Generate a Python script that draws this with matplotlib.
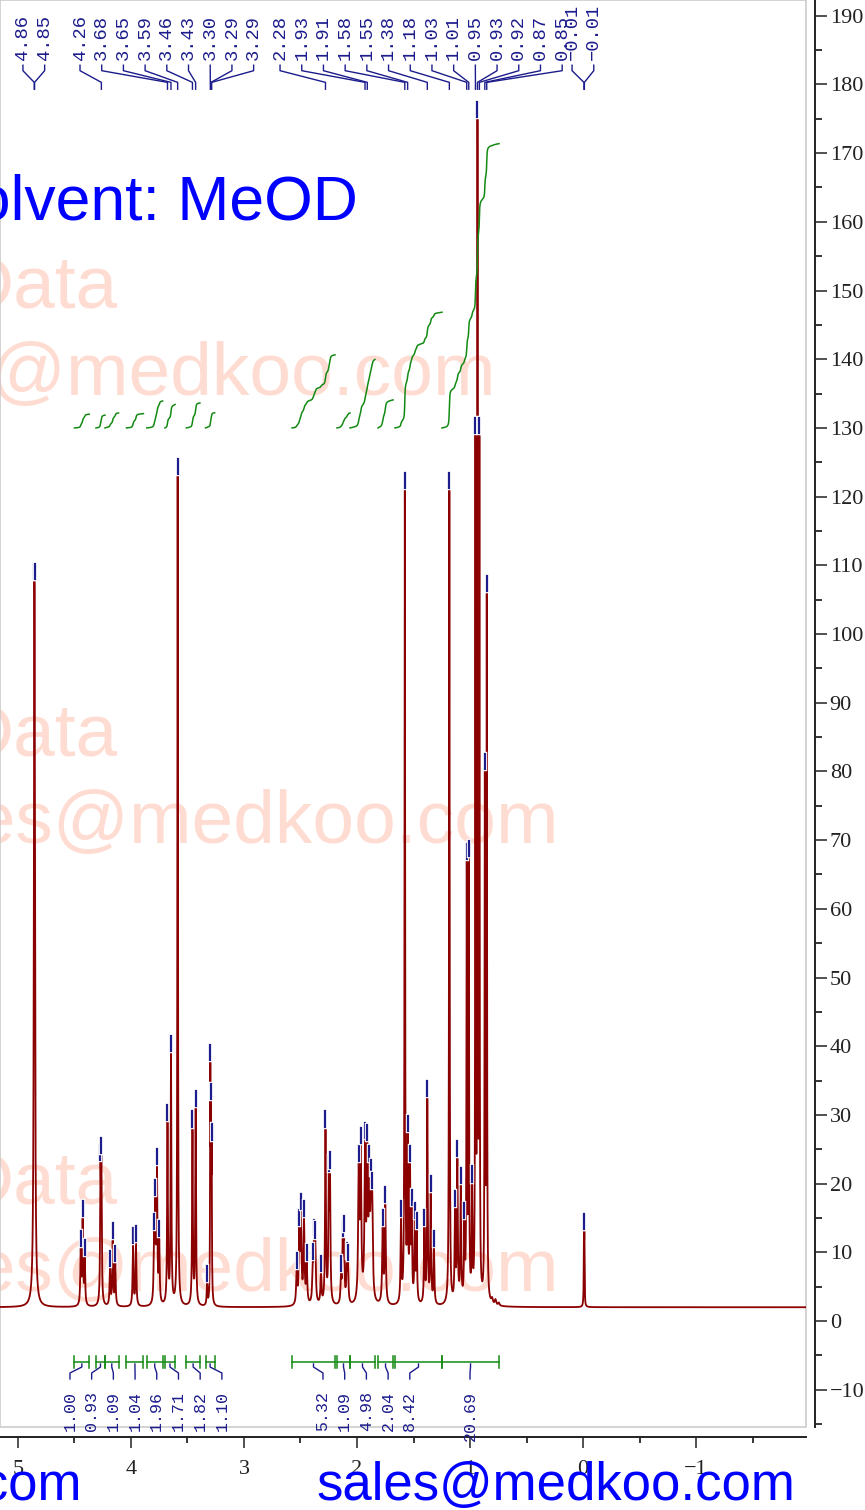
import numpy as np
import matplotlib
matplotlib.use("Agg")
import matplotlib.pyplot as plt
from matplotlib.ticker import MultipleLocator
from matplotlib.patches import Rectangle
import matplotlib.patheffects as pe

# 1H NMR peaks: shift (ppm), apparent height, half width (ppm)
peak_ppm = [4.856, 4.853,
            4.445, 4.428, 4.409,
            4.270, 4.262,
            4.186, 4.162, 4.139,
            3.982, 3.956,
            3.796, 3.785, 3.770, 3.750,
            3.677, 3.646, 3.587,
            3.456, 3.428,
            3.327, 3.298, 3.292, 3.286,
            2.534, 2.511, 2.496, 2.469, 2.445, 2.392, 2.381, 2.369, 2.319, 2.279, 2.250, 2.239,
            2.142, 2.127, 2.115, 2.091, 2.080,
            1.985, 1.967, 1.929, 1.909, 1.891, 1.876, 1.865,
            1.773, 1.750,
            1.611, 1.577, 1.552, 1.531, 1.516, 1.489, 1.472,
            1.404, 1.378, 1.348, 1.319,
            1.183,
            1.133, 1.112, 1.082, 1.050, 1.029, 1.011, 0.982,
            0.952, 0.934, 0.917,
            0.869, 0.852,
            0.805, 0.775, 0.745,
            -0.008, -0.012]
peak_height = [100, 100,
               8.6, 13, 7.3,
               21, 22,
               5.7, 9.8, 6.4,
               9, 9.3,
               11, 16, 20.5, 10,
               27, 37, 121,
               26, 29,
               3.5, 35.7, 30, 24,
               5.4, 11.7, 14, 13, 6.6, 6.6, 10.2, 9.8, 5, 26, 19.5, 20,
               5, 10, 10.8, 6.9, 6.5,
               21, 23.6, 24.3, 24, 21, 19, 16.8,
               11.7, 15,
               13, 119, 25.4, 21, 14.6, 12.7, 11.2,
               11.7, 30.5, 16.6, 8.6,
               119,
               14.4, 21.7, 17.8, 12.7, 65, 65.4, 18,
               127, 173, 127,
               78, 104,
               1.5, 1.2, 0.7,
               11, 11]
peak_hwhm = [0.005, 0.005,
             0.0045, 0.0045, 0.0045,
             0.004, 0.004,
             0.0045, 0.0045, 0.0045,
             0.0045, 0.0045,
             0.0045, 0.0045, 0.0045, 0.0045,
             0.004, 0.004, 0.003,
             0.004, 0.004,
             0.004, 0.0025, 0.0025, 0.0025,
             0.0055, 0.0055, 0.0055, 0.0055, 0.0055, 0.0055, 0.0055, 0.0055, 0.0055, 0.0045, 0.0045, 0.0045,
             0.005, 0.005, 0.005, 0.005, 0.005,
             0.006, 0.006, 0.006, 0.006, 0.006, 0.006, 0.006,
             0.0055, 0.0055,
             0.0045, 0.003, 0.0045, 0.0045, 0.0045, 0.0045, 0.0045,
             0.0045, 0.004, 0.0045, 0.0045,
             0.003,
             0.0045, 0.0045, 0.0045, 0.0045, 0.003, 0.003, 0.004,
             0.0025, 0.0025, 0.0025,
             0.0028, 0.0028,
             0.007, 0.007, 0.007,
             0.0022, 0.0022]
baseline = 2.0

# picked peaks shown in the label row at the top
pick_ppm = [4.856, 4.853,
            4.262, 3.677, 3.646, 3.587, 3.456, 3.428, 3.298, 3.292, 3.286,
            2.279, 1.929, 1.909, 1.577, 1.552, 1.378, 1.183, 1.029, 1.011,
            0.952, 0.934, 0.917, 0.869, 0.852,
            -0.008, -0.012]

# integral regions
int_start = [4.50, 4.31, 4.23, 4.04, 3.86, 3.70, 3.51, 3.34, 2.575, 2.177, 2.062, 1.814, 1.664, 1.248]
int_end = [4.37, 4.23, 4.11, 3.89, 3.72, 3.61, 3.39, 3.26, 2.195, 2.062, 1.841, 1.681, 1.248, 0.743]
int_value = [1.00, 0.93, 1.09, 1.04, 1.96, 1.71, 1.82, 1.10, 5.32, 1.09, 4.98, 2.04, 8.42, 20.69]

navy = '#1c1c8c'
red = '#8b0000'
green = '#138a13'
pink = '#ffdcd2'
blue = '#0000ff'

plt.rcParams['font.family'] = 'Liberation Serif'

W, H = 865, 1510
fig = plt.figure(figsize=(W / 100, H / 100), dpi=100)
ax = fig.add_axes([0, 83 / H, 806 / W, 1427 / H])


def fx(x):
    return x / W


def fy(y):
    return 1 - y / H


# watermarks behind the spectrum
for dy, xr in [(0, 497), (448, 560), (896, 560)]:
    ax.text(fx(118), fy(307 + dy), "Data", transform=fig.transFigure, ha='right', va='baseline',
            fontsize=54, color=pink, family='Liberation Sans', zorder=0)
    ax.text(fx(xr), fy(395 + dy), "sales@medkoo.com", transform=fig.transFigure, ha='right',
            va='baseline', fontsize=54, color=pink, family='Liberation Sans', zorder=0)

# build the spectrum from the peak list
P = np.array(peak_ppm)
Hh = np.array(peak_height)
Wd = np.array(peak_hwhm)


def lorentz(x, c, w):
    return 1.0 / (1.0 + ((x - c) / w) ** 2)


M = lorentz(P[:, None], P[None, :], Wd[None, :])
amp = np.clip(np.linalg.solve(M, Hh), 0, None)
ppm = np.linspace(5.2, -2.0, 40001)
spec = baseline + (amp[None, :] * lorentz(ppm[:, None], P[None, :], Wd[None, :])).sum(axis=1)

ax.plot(ppm, spec, color=red, lw=1.3, zorder=2)

# peak markers sit on the local top of the trace
for p, h in zip(peak_ppm, peak_height):
    if h < 3:
        continue
    near = np.abs(ppm - p) <= 0.002
    t = spec[near].max()
    ax.plot([p, p], [t + 0.3, t + 2.5], color=navy, lw=1.6, zorder=3,
            path_effects=[pe.withStroke(linewidth=3.2, foreground='white')])

# top label row
spacing = 21.7 / 113
label_groups = [(4.956, 2), (4.451, 9), (2.681, 14), (0.097, 2)]
k = 0
for start, n in label_groups:
    for i in range(n):
        p = pick_ppm[k]
        xl = start - i * spacing
        ax.plot([xl, xl, p, p], [182.8, 182.0, 180.3, 179.3], color=navy, lw=1.0, zorder=3)
        ax.text(xl, 183.5, f"{p:.2f}".replace('-', '\u2212'), rotation=90, ha='center', va='bottom',
                fontsize=13.5, color=navy, family='Liberation Mono', zorder=3)
        k += 1

# integrals: curves, bars, labels
int_groups = [(4.540, 8), (2.301, 5), (1.000, 1)]
k = 0
for start, n in int_groups:
    for i in range(n):
        s, e, val = int_start[k], int_end[k], int_value[k]
        m = (ppm <= s) & (ppm >= e)
        cum = np.cumsum(spec[m] - baseline)
        cum = cum / cum[-1] * val
        ax.plot(ppm[m], 130 + 2.0 * cum, color=green, lw=1.1, zorder=3)
        ax.plot([s, e], [-5.97, -5.97], color=green, lw=1.1)
        ax.plot([s, s], [-5.1, -6.84], color=green, lw=1.1)
        ax.plot([e, e], [-5.1, -6.84], color=green, lw=1.1)
        xc = (s + e) / 2
        xl = start - i * spacing
        ax.plot([xc, xc, xl, xl], [-6.26, -6.7, -7.57, -8.44], color=navy, lw=1.0)
        ax.text(xl, -10.2, f"{val:.2f}", rotation=90, ha='center', va='top',
                fontsize=12, color=navy, family='Liberation Mono')
        k += 1

ax.set_xlim(5.159, -1.973)
ax.set_ylim(-15.43, 192.29)

for side in ['left', 'top']:
    ax.spines[side].set_visible(False)
ax.spines['bottom'].set_position(('outward', 7.2))
ax.spines['right'].set_position(('outward', 6.5))
ax.spines['bottom'].set_linewidth(1.4)
ax.spines['right'].set_linewidth(1.4)
ax.spines['bottom'].set_color('#222222')
ax.spines['right'].set_color('#222222')
ax.yaxis.tick_right()
ax.xaxis.set_major_locator(MultipleLocator(1))
ax.xaxis.set_minor_locator(MultipleLocator(0.5))
ax.yaxis.set_major_locator(MultipleLocator(10))
ax.yaxis.set_minor_locator(MultipleLocator(5))
ax.tick_params(axis='x', which='major', length=7.9, width=1.1, pad=9, labelsize=16, colors='#222222')
ax.tick_params(axis='x', which='minor', length=4.3, width=1.1)
ax.tick_params(axis='y', which='major', length=8.6, width=1.1, pad=2, labelsize=16, colors='#222222')
ax.tick_params(axis='y', which='minor', length=5, width=1.1)

ax.add_patch(Rectangle((0, 0), 1, 1, transform=ax.transAxes, fill=False, ec='#c8c8c8',
                       lw=1.1, clip_on=False, zorder=1))

fig.text(fx(358), fy(220), "Solvent: MeOD", ha='right', va='baseline', fontsize=45,
         color=blue, family='Liberation Sans')
fig.text(fx(795), fy(1500), "sales@medkoo.com", ha='right', va='baseline', fontsize=38,
         color=blue, family='Liberation Sans')
fig.text(fx(82), fy(1500), "www.medkoo.com", ha='right', va='baseline', fontsize=38,
         color=blue, family='Liberation Sans')

fig.savefig("out.png", dpi=100)
